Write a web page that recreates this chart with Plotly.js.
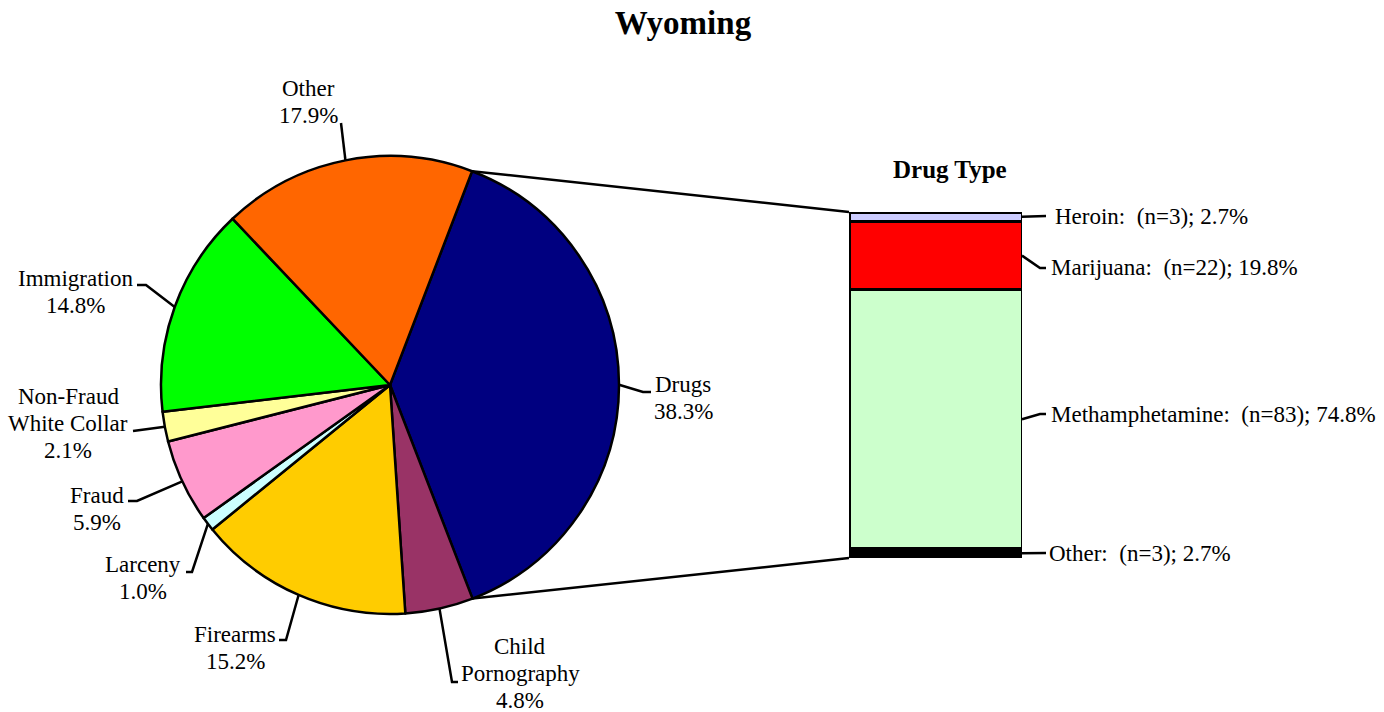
<!DOCTYPE html>
<html>
<head>
<meta charset="utf-8">
<script src="https://cdn.plot.ly/plotly-3.0.1.min.js"></script>
<style>html,body{margin:0;padding:0;background:#fff;}#chart{width:1384px;height:712px;}</style>
</head>
<body>
<div id="chart"></div>
<script>
// ---- data ----
const offenseLabels = ["Drugs", "Child<br>Pornography", "Firearms", "Larceny", "Fraud", "Non-Fraud<br>White Collar", "Immigration", "Other"];
const offensePct = [38.3, 4.8, 15.2, 1.0, 5.9, 2.1, 14.8, 17.9];
const offenseColors = ["#000080", "#993366", "#FFCC00", "#CCFFFF", "#FF99CC", "#FFFF99", "#00FF00", "#FF6600"];

const drugTypes = ["Heroin", "Marijuana", "Methamphetamine", "Other"];
const drugCounts = [3, 22, 83, 3];
const drugPct = [2.7, 19.8, 74.8, 2.7];
const drugColors = ["#CCCCFF", "#FF0000", "#CCFFCC", "#000000"];

// ---- layout geometry (pixels) ----
const W = 1384, H = 712;
const pieCx = 390, pieCy = 385, pieR = 229;
const rotationDeg = 21;
const barX0 = 849, barX1 = 1022, barY0 = 212, barY1 = 558;
const FONT = "Liberation Serif, Times New Roman, serif";
const LABEL_SIZE = 23, LINE_GAP = 27;

const px = x => x / W;
const py = y => 1 - y / H;

function piePoint(angDeg, r) {
  const a = angDeg * Math.PI / 180;
  return [pieCx + r * Math.sin(a), pieCy - r * Math.cos(a)];
}

// cumulative angles
const total = offensePct.reduce((a, b) => a + b, 0);
const startAng = [], midAng = [];
let acc = rotationDeg;
offensePct.forEach(v => {
  const span = v / total * 360;
  startAng.push(acc);
  midAng.push(acc + span / 2);
  acc += span;
});

// label placements: text block center and leader-line elbow points
const pieLabelPos = [
  {c: [683, 398], pts: [[643, 392], [651, 392]]},
  {c: [520, 673], pts: [[452, 682], [458, 682]]},
  {c: [235, 648], pts: [[286, 640], [279, 640]]},
  {c: [143, 578], pts: [[192, 572], [186, 572]]},
  {c: [97, 509],  pts: [[137, 501], [128, 501]]},
  {c: [68, 423],  pts: [[133, 431]]},
  {c: [75, 292],  pts: [[146, 285], [137, 285]]},
  {c: [308, 102], pts: [[341, 123]]}
];

const shapes = [];
const annotations = [];

function addLines(lines, cx, cy, anchor) {
  const n = lines.length;
  lines.forEach((ln, k) => {
    annotations.push({
      xref: 'paper', yref: 'paper', x: px(cx), y: py(cy - (n - 1) * LINE_GAP / 2 + k * LINE_GAP),
      xanchor: anchor, yanchor: 'middle', align: anchor === 'left' ? 'left' : 'center', showarrow: false,
      text: ln, font: {family: FONT, size: LABEL_SIZE, color: '#000'}
    });
  });
}

offenseLabels.forEach((lab, i) => {
  const s = piePoint(midAng[i], pieR);
  let path = `M ${px(s[0])} ${py(s[1])}`;
  pieLabelPos[i].pts.forEach(p => { path += ` L ${px(p[0])} ${py(p[1])}`; });
  shapes.push({type: 'path', xref: 'paper', yref: 'paper', path: path, line: {color: '#000', width: 2.5}});
  const lines = lab.split('<br>').concat([offensePct[i].toFixed(1) + '%']);
  addLines(lines, pieLabelPos[i].c[0], pieLabelPos[i].c[1], 'center');
});

// connector lines from Drugs slice edges to bar
const dStart = piePoint(startAng[0], pieR);
const dEnd = piePoint(startAng[0] + offensePct[0] / total * 360, pieR);
shapes.push({type: 'line', xref: 'paper', yref: 'paper', x0: px(dStart[0]), y0: py(dStart[1]), x1: px(barX0), y1: py(barY0), line: {color: '#000', width: 2.5}});
shapes.push({type: 'line', xref: 'paper', yref: 'paper', x0: px(dEnd[0]), y0: py(dEnd[1]), x1: px(barX0), y1: py(barY1), line: {color: '#000', width: 2.5}});

// bar labels
const barH = barY1 - barY0;
let cum = 0;
const barLabelY = [216, 268, 414, 553];
const barLabelTextX = [1053, 1049, 1049, 1047];
drugTypes.forEach((t, i) => {
  const segMid = barY0 + (cum + drugPct[i] / 2) / 100 * barH;
  cum += drugPct[i];
  const ly = barLabelY[i];
  let path;
  if (Math.abs(segMid - ly) > 4) {
    path = `M ${px(barX1)} ${py(segMid)} L ${px(1040)} ${py(ly)} L ${px(1046)} ${py(ly)}`;
  } else {
    path = `M ${px(barX1)} ${py(segMid)} L ${px(1046)} ${py(ly)}`;
  }
  shapes.push({type: 'path', xref: 'paper', yref: 'paper', path: path, line: {color: '#000', width: 2.5}});
  addLines([t + ':\u00a0 (n=' + drugCounts[i] + '); ' + drugPct[i].toFixed(1) + '%'], barLabelTextX[i], ly, 'left');
});

annotations.push({
  xref: 'paper', yref: 'paper', x: px(950), y: py(170), xanchor: 'center', yanchor: 'middle',
  showarrow: false, text: '<b>Drug Type</b>', font: {family: FONT, size: 25, color: '#000'}
});

const traces = [];
traces.push({
  type: 'pie', labels: offenseLabels, values: offensePct, sort: false, direction: 'clockwise',
  rotation: rotationDeg, textinfo: 'none', hoverinfo: 'label+percent',
  marker: {colors: offenseColors, line: {color: '#000', width: 2.5}},
  domain: {x: [px(pieCx - pieR), px(pieCx + pieR)], y: [py(pieCy + pieR), py(pieCy - pieR)]},
  showlegend: false
});

// stacked bar: bottom to top
for (let i = drugTypes.length - 1; i >= 0; i--) {
  traces.push({
    type: 'bar', x: [0], y: [drugPct[i]], name: drugTypes[i], width: 1,
    marker: {color: drugColors[i], line: {color: '#000', width: 3}},
    xaxis: 'x', yaxis: 'y', showlegend: false, hoverinfo: 'name+y'
  });
}

const layout = {
  width: W, height: H,
  margin: {l: 0, r: 0, t: 0, b: 0},
  paper_bgcolor: '#fff', plot_bgcolor: 'rgba(0,0,0,0)',
  barmode: 'stack',
  title: {text: '<b>Wyoming</b>', x: px(683), xanchor: 'center', y: py(22), yanchor: 'middle',
          font: {family: FONT, size: 33, color: '#000'}},
  xaxis: {domain: [px(barX0), px(barX1)], range: [-0.5, 0.5], visible: false, fixedrange: true},
  yaxis: {domain: [py(barY1), py(barY0)], range: [0, 100], visible: false, fixedrange: true},
  shapes: shapes,
  annotations: annotations,
  showlegend: false
};

Plotly.newPlot('chart', traces, layout, {displayModeBar: false, staticPlot: true});
</script>
</body>
</html>
